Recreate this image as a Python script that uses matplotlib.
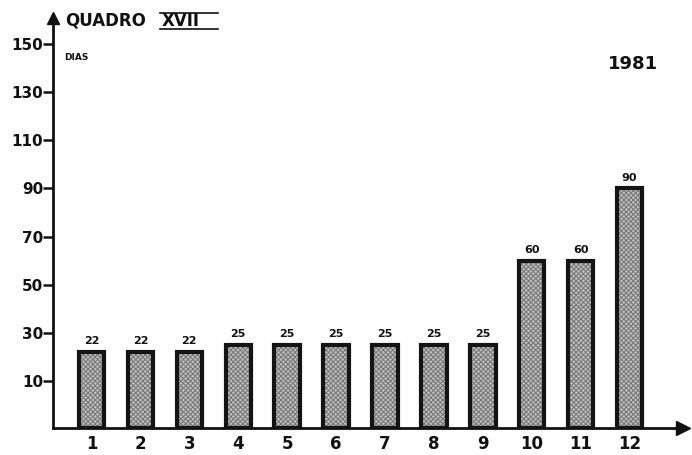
import matplotlib
matplotlib.use("Agg")
import matplotlib.pyplot as plt
import numpy as np

# Monthly data, 1981
months = [1, 2, 3, 4, 5, 6, 7, 8, 9, 10, 11, 12]
days = [22, 22, 22, 25, 25, 25, 25, 25, 25, 60, 60, 90]
y_ticks = [10, 30, 50, 70, 90, 110, 130, 150]
month_labels = [str(m) for m in months]

plt.rcParams["font.family"] = ["DejaVu Sans"]
plt.rcParams["hatch.linewidth"] = 0.7

fig = plt.figure(figsize=(6.92, 4.55), dpi=100)
fig.patch.set_facecolor("white")
ax = fig.add_axes([53 / 692, 27 / 455, (680 - 53) / 692, (428 - 18) / 455])

y_base = -9.5
ax.set_ylim(y_base, 160.8)
ax.set_xlim(0.213, 13.03)

heights = [v - y_base for v in days]
bw = 0.52
# grainy fill
ax.bar(months, heights, bottom=y_base, width=bw, color="#bdbdbd",
       hatch="xxxxxxx", edgecolor="#777777", linewidth=0, zorder=2)
# heavy outline
ax.bar(months, heights, bottom=y_base, width=bw, fill=False,
       edgecolor="#141414", linewidth=3.0, zorder=3)

for m, v in zip(months, days):
    ax.text(m, v + 2.4, str(v), ha="center", va="bottom",
            fontsize=8, fontweight="bold", color="#111111")

for s in ("top", "right"):
    ax.spines[s].set_visible(False)
for s in ("left", "bottom"):
    ax.spines[s].set_linewidth(2.0)
    ax.spines[s].set_color("#111111")

ax.set_yticks(y_ticks)
ax.set_yticklabels([str(t) for t in y_ticks], fontsize=11, fontweight="bold",
                   color="#111111")
ax.tick_params(axis="y", direction="out", length=7, width=1.8, pad=0,
               color="#111111")
ax.set_xticks(months)
ax.set_xticklabels(month_labels, fontsize=12, fontweight="bold", color="#111111")
ax.tick_params(axis="x", length=0, pad=5)

# axis arrowheads
ax.plot([0], [1], marker="^", markersize=9, color="#111111",
        transform=ax.transAxes, clip_on=False)
ax.plot([1.0 + 3 / 627], [0], marker=">", markersize=10, color="#111111",
        transform=ax.transAxes, clip_on=False)

fig.text(65 / 692, 1 - 21 / 455, "QUADRO", fontsize=12, fontweight="bold",
         va="center", ha="left", color="#111111")
fig.text(162 / 692, 1 - 21 / 455, "XVII", fontsize=12, fontweight="bold",
         va="center", ha="left", color="#111111")
fig.add_artist(plt.Line2D([160 / 692, 218 / 692], [1 - 13 / 455, 1 - 13 / 455],
                          color="#111111", linewidth=1.2))
fig.add_artist(plt.Line2D([160 / 692, 218 / 692], [1 - 29 / 455, 1 - 29 / 455],
                          color="#111111", linewidth=1.2))
fig.text(64 / 692, 1 - 57 / 455, "DIAS", fontsize=6.5, fontweight="bold",
         va="center", ha="left", color="#111111")
fig.text(633 / 692, 1 - 64 / 455, "1981", fontsize=13, fontweight="bold",
         va="center", ha="center", color="#111111")

fig.savefig("out.png", dpi=100, facecolor="white")
